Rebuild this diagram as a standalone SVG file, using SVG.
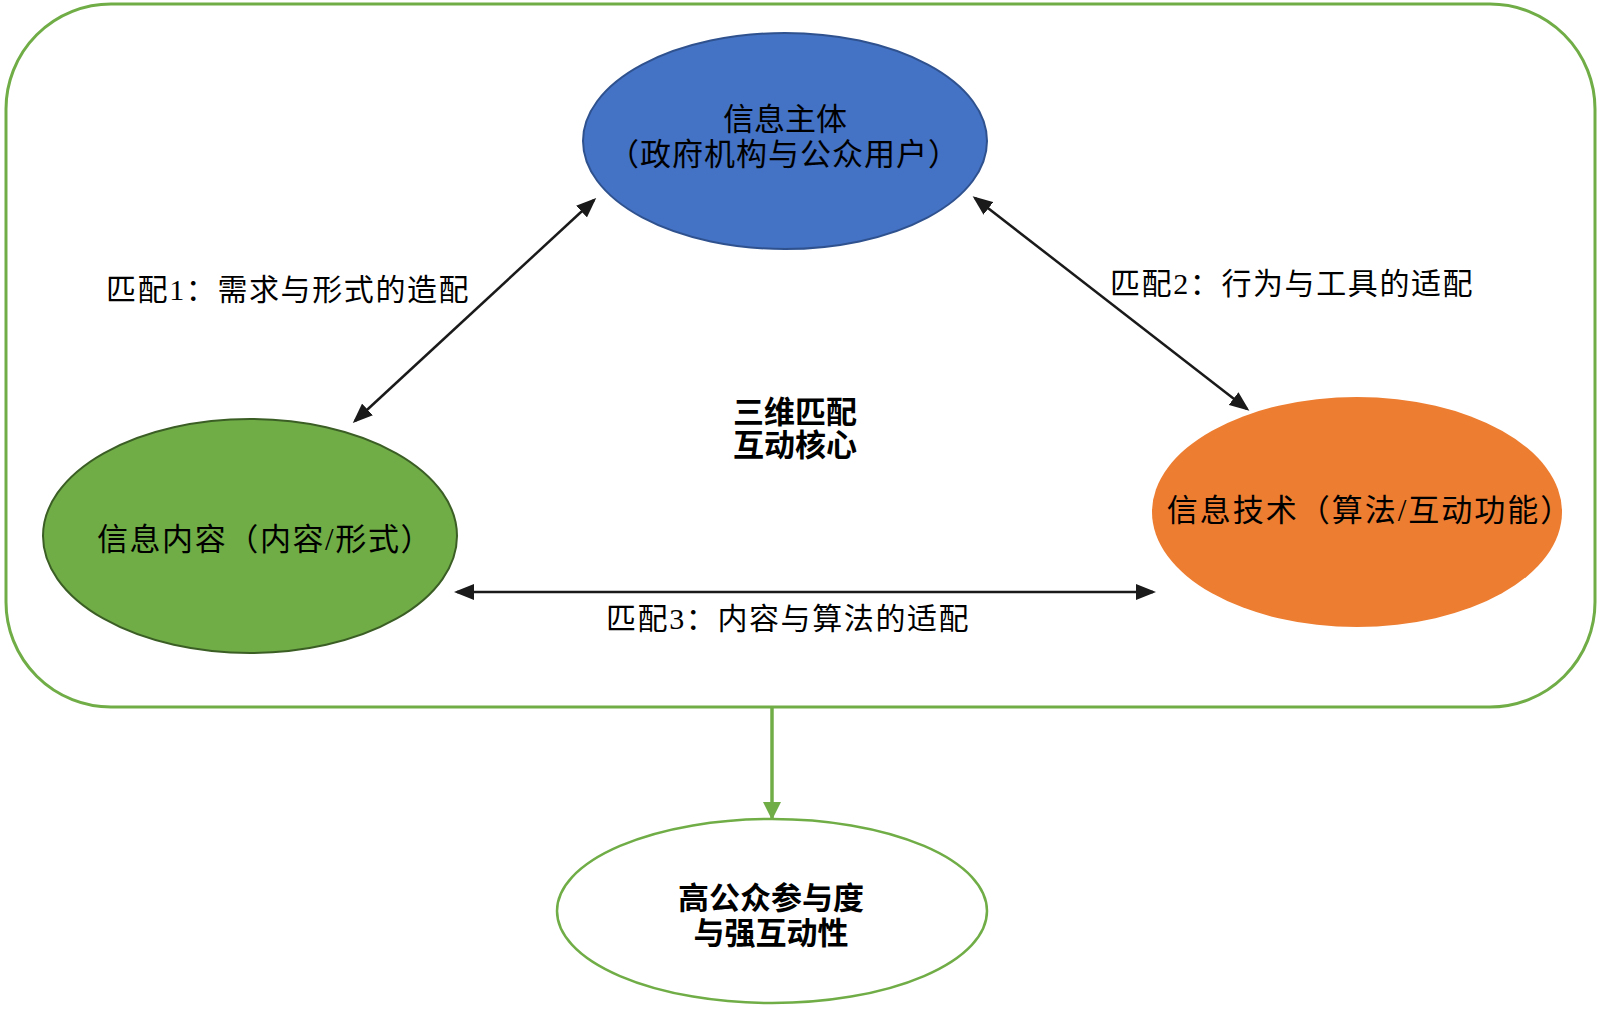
<svg xmlns="http://www.w3.org/2000/svg" width="1600" height="1011" viewBox="0 0 1600 1011">
<defs>
<style>
text{font-family:"Liberation Serif","Noto Sans CJK SC",serif;fill:#000;text-anchor:middle;}
.t{font-size:31px;}
.b{font-size:31px;font-weight:bold;}
.lbl{font-size:30px;text-anchor:start;letter-spacing:1.6px;}
.conn{stroke:#1a1a1a;stroke-width:2.5;fill:none;}
.gconn{stroke:#70AD47;stroke-width:3.5;fill:none;}
</style>
<marker id="ah" markerUnits="userSpaceOnUse" markerWidth="20" markerHeight="16" viewBox="0 0 20 16" refX="17" refY="8" orient="auto-start-reverse">
<path d="M0,0 L20,8 L0,16 z" fill="#1a1a1a"/>
</marker>
<marker id="gah" markerUnits="userSpaceOnUse" markerWidth="18" markerHeight="18" viewBox="0 0 18 18" refX="16" refY="9" orient="auto">
<path d="M0,0 L18,9 L0,18 z" fill="#70AD47"/>
</marker>
</defs>
<rect width="1600" height="1011" fill="#fff"/>
<g id="frame">
<rect x="6" y="4" width="1589" height="703" rx="105" ry="105" fill="none" stroke="#70AD47" stroke-width="3"/>
</g>
<g id="connectors">
<line class="conn" x1="594" y1="200" x2="355" y2="421" marker-start="url(#ah)" marker-end="url(#ah)"/>
<line class="conn" x1="975" y1="198" x2="1247" y2="409" marker-start="url(#ah)" marker-end="url(#ah)"/>
<line class="conn" x1="457" y1="592" x2="1153" y2="592" marker-start="url(#ah)" marker-end="url(#ah)"/>
<line class="gconn" x1="772" y1="707" x2="772" y2="818" marker-end="url(#gah)"/>
</g>
<g id="node-subject">
<ellipse cx="785" cy="141" rx="202" ry="108" fill="#4472C4" stroke="#2F528F" stroke-width="2"/>
<text class="t" x="785" y="130">信息主体</text>
<text class="t" x="784" y="165" style="letter-spacing:1px">（政府机构与公众用户）</text>
</g>
<g id="node-content">
<ellipse cx="250" cy="536" rx="207" ry="117" fill="#70AD47" stroke="#3B5E25" stroke-width="2"/>
<text class="t" x="265" y="550" style="letter-spacing:1.6px">信息内容（内容/形式）</text>
</g>
<g id="node-tech">
<ellipse cx="1357" cy="512" rx="205" ry="115" fill="#ED7D31"/>
<text class="t" x="1370" y="521" style="letter-spacing:2px">信息技术（算法/互动功能）</text>
</g>
<g id="node-core">
<text class="b" x="795" y="423">三维匹配</text>
<text class="b" x="795" y="456">互动核心</text>
</g>
<g id="node-result">
<ellipse cx="772" cy="911" rx="215" ry="92" fill="#fff" stroke="#70AD47" stroke-width="2.5"/>
<text class="b" x="771" y="909">高公众参与度</text>
<text class="b" x="771" y="944">与强互动性</text>
</g>
<g id="labels">
<text class="lbl" x="106" y="300">匹配1：需求与形式的造配</text>
<text class="lbl" x="1110" y="294">匹配2：行为与工具的适配</text>
<text class="lbl" x="606" y="629">匹配3：内容与算法的适配</text>
</g>
</svg>
